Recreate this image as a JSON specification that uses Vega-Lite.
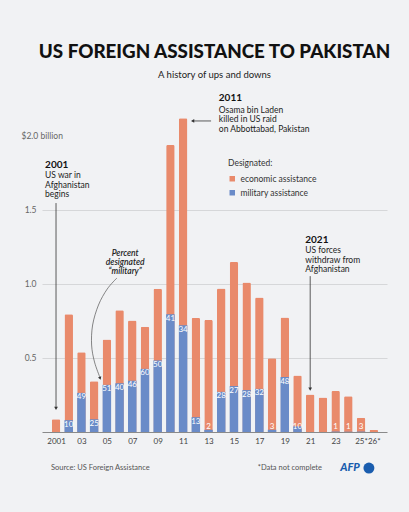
{
  "$schema": "https://vega.github.io/schema/vega-lite/v6.json",
  "autosize": {"type": "none"},
  "width": 345,
  "height": 326,
  "padding": {"left": 42, "top": 106, "right": 22, "bottom": 80},
  "background": "#f1f2f4",
  "config": {
    "font": "Lato",
    "view": {"stroke": null},
    "title": {"font": "Lato"},
    "axis": {"labelFont": "Lato", "titleFont": "Lato"},
    "axisX": {"labelOverlap": false, "labelFlush": false},
    "legend": {"labelFont": "Lato", "titleFont": "Lato"}
  },
  "title": {
    "text": "US FOREIGN ASSISTANCE TO PAKISTAN",
    "subtitle": "A history of ups and downs",
    "anchor": "middle",
    "frame": "group",
    "fontSize": 18.8,
    "fontWeight": 900,
    "color": "#111111",
    "subtitleFontSize": 9.5,
    "subtitleColor": "#222222",
    "subtitlePadding": 8,
    "offset": 14
  },
  "datasets": {
    "aid": [
      {"year": 2001, "total": 0.086, "military": 0, "pct": null},
      {"year": 2002, "total": 0.795, "military": 0.080, "pct": 10},
      {"year": 2003, "total": 0.538, "military": 0.264, "pct": 49},
      {"year": 2004, "total": 0.343, "military": 0.086, "pct": 25},
      {"year": 2005, "total": 0.624, "military": 0.318, "pct": 51},
      {"year": 2006, "total": 0.822, "military": 0.329, "pct": 40},
      {"year": 2007, "total": 0.752, "military": 0.346, "pct": 46},
      {"year": 2008, "total": 0.710, "military": 0.426, "pct": 60},
      {"year": 2009, "total": 0.966, "military": 0.483, "pct": 50},
      {"year": 2010, "total": 1.937, "military": 0.794, "pct": 41},
      {"year": 2011, "total": 2.118, "military": 0.720, "pct": 34},
      {"year": 2012, "total": 0.770, "military": 0.100, "pct": 13},
      {"year": 2013, "total": 0.755, "military": 0.015, "pct": 2},
      {"year": 2014, "total": 0.969, "military": 0.271, "pct": 28},
      {"year": 2015, "total": 1.147, "military": 0.310, "pct": 27},
      {"year": 2016, "total": 1.009, "military": 0.283, "pct": 28},
      {"year": 2017, "total": 0.908, "military": 0.291, "pct": 32},
      {"year": 2018, "total": 0.498, "military": 0.015, "pct": 3},
      {"year": 2019, "total": 0.773, "military": 0.371, "pct": 48},
      {"year": 2020, "total": 0.381, "military": 0.038, "pct": 10},
      {"year": 2021, "total": 0.253, "military": 0, "pct": null},
      {"year": 2022, "total": 0.232, "military": 0, "pct": null},
      {"year": 2023, "total": 0.277, "military": 0.003, "pct": 1},
      {"year": 2024, "total": 0.241, "military": 0.002, "pct": 1},
      {"year": 2025, "total": 0.097, "military": 0.003, "pct": 3},
      {"year": 2026, "total": 0.014, "military": 0, "pct": null}
    ],
    "heads": [
      {"year": 2000.14, "value": 1.802, "text": "2001"},
      {"year": 2013.81, "value": 2.251, "text": "2011"},
      {"year": 2020.61, "value": 1.296, "text": "2021"}
    ],
    "bodies": [
      {"year": 2000.14, "value": 1.714, "text": "US war in\nAfghanistan\nbegins"},
      {"year": 2013.81, "value": 2.156, "text": "Osama bin Laden\nkilled in US raid\non Abbottabad, Pakistan"},
      {"year": 2020.61, "value": 1.208, "text": "US forces\nwithdraw from\nAfghanistan"}
    ],
    "arrows": [
      {"year": 2001, "year2": 2001, "value": 1.545, "value2": 0.16},
      {"year": 2013.2, "year2": 2011.75, "value": 2.099, "value2": 2.099},
      {"year": 2021, "year2": 2021, "value": 1.052, "value2": 0.29}
    ],
    "curve": [
      {"i": 0, "year": 2005.79, "value": 1.039},
      {"i": 1, "year": 2005.03, "value": 0.965},
      {"i": 2, "year": 2004.34, "value": 0.857},
      {"i": 3, "year": 2003.88, "value": 0.722},
      {"i": 4, "year": 2003.80, "value": 0.587},
      {"i": 5, "year": 2004.03, "value": 0.472},
      {"i": 6, "year": 2004.45, "value": 0.37}
    ],
    "footer": [
      {"year": 2000.6, "value": -0.243, "text": "Source: US Foreign Assistance"},
      {"year": 2016.87, "value": -0.243, "text": "*Data not complete"}
    ]
  },
  "encoding": {
    "x": {
      "field": "year",
      "type": "quantitative",
      "scale": {"domain": [2000.29, 2026.65], "nice": false, "zero": false},
      "axis": {
        "title": null,
        "values": [2001, 2003, 2005, 2007, 2009, 2011, 2013, 2015, 2017, 2019, 2021, 2023, 2025, 2026],
        "labelExpr": "datum.value == 2001 ? '2001' : (substring(toString(datum.value), 2, 4) + (datum.value >= 2025 ? '*' : ''))",
        "labelOverlap": false,
        "labelFlush": false,
        "labelFontSize": 8,
        "labelColor": "#444444",
        "labelPadding": 5,
        "ticks": false,
        "grid": false,
        "domainColor": "#8a8a8a",
        "domainWidth": 1
      }
    }
  },
  "layer": [
    {
      "data": {"values": [{"value": 2}]},
      "mark": {"type": "rule", "color": "#d6d7d9", "strokeWidth": 1},
      "encoding": {
        "x": {"datum": 2002.12, "type": "quantitative"},
        "x2": {"datum": 2026.65},
        "y": {
          "field": "value",
          "type": "quantitative",
          "scale": {"domain": [0, 2.2], "nice": false},
          "axis": {
            "title": null,
            "values": [0.5, 1, 1.5, 2],
            "labelExpr": "datum.value == 2 ? '$2.0 billion' : format(datum.value, '.1f')",
            "labelFontSize": 8.5,
            "labelColor": "#666666",
            "labelAlign": {"condition": {"test": "datum.value == 2", "value": "left"}, "value": "right"},
            "labelPadding": {"condition": {"test": "datum.value == 2", "value": 21}, "value": 6},
            "labelBaseline": "middle",
            "ticks": false,
            "domain": false,
            "grid": true,
            "gridColor": "#d6d7d9",
            "gridOpacity": {"condition": {"test": "datum.value == 2", "value": 0}, "value": 1}
          }
        }
      }
    },
    {
      "data": {"name": "aid"},
      "mark": {"type": "bar", "width": 8.5, "cornerRadiusTopLeft": 1.5, "cornerRadiusTopRight": 1.5},
      "encoding": {
        "y": {"field": "total", "type": "quantitative"},
        "color": {
          "datum": "economic assistance",
          "type": "nominal",
          "scale": {"domain": ["economic assistance", "military assistance"], "range": ["#e98a6b", "#6a8bc8"]},
          "legend": {
            "title": "Designated:",
            "orient": "none",
            "legendX": 186,
            "legendY": 53,
            "titleFontSize": 8.5,
            "titleFontWeight": "normal",
            "titleColor": "#333333",
            "titlePadding": 7,
            "labelFontSize": 8.5,
            "labelColor": "#333333",
            "labelOffset": 4,
            "symbolType": "square",
            "symbolSize": 30,
            "symbolStrokeWidth": 0,
            "rowPadding": 5
          }
        }
      }
    },
    {
      "data": {"name": "aid"},
      "mark": {"type": "bar", "width": 8.5},
      "encoding": {
        "y": {"field": "military", "type": "quantitative"},
        "color": {"datum": "military assistance", "type": "nominal"}
      }
    },
    {
      "data": {"name": "aid"},
      "transform": [
        {"filter": "datum.pct != null"},
        {"calculate": "max(datum.military, 0.065)", "as": "labelY"}
      ],
      "mark": {"type": "text", "color": "#ffffff", "fontSize": 8, "baseline": "middle", "dy": 4.5},
      "encoding": {
        "y": {"field": "labelY", "type": "quantitative"},
        "text": {"field": "pct", "type": "quantitative"}
      }
    },
    {
      "data": {"name": "heads"},
      "mark": {"type": "text", "align": "left", "baseline": "middle", "fontSize": 10, "fontWeight": "bold", "color": "#111111"},
      "encoding": {
        "y": {"field": "value", "type": "quantitative"},
        "text": {"field": "text"}
      }
    },
    {
      "data": {"name": "bodies"},
      "mark": {"type": "text", "align": "left", "baseline": "alphabetic", "fontSize": 8.5, "lineHeight": 9.6, "lineBreak": "\n", "color": "#222222"},
      "encoding": {
        "y": {"field": "value", "type": "quantitative"},
        "text": {"field": "text"}
      }
    },
    {
      "data": {"values": [{"year": 2006.44, "value": 1.188, "text": "Percent\ndesignated\n“military”"}]},
      "mark": {"type": "text", "align": "center", "baseline": "alphabetic", "fontSize": 8.5, "fontStyle": "italic", "fontWeight": 600, "lineHeight": 9, "lineBreak": "\n", "color": "#222222"},
      "encoding": {
        "y": {"field": "value", "type": "quantitative"},
        "text": {"field": "text"}
      }
    },
    {
      "data": {"name": "arrows"},
      "mark": {"type": "rule", "color": "#333333", "strokeWidth": 0.8},
      "encoding": {
        "x2": {"field": "year2"},
        "y": {"field": "value", "type": "quantitative"},
        "y2": {"field": "value2"}
      }
    },
    {
      "data": {"values": [{"year": 2001, "value": 0.16}, {"year": 2021, "value": 0.29}]},
      "mark": {"type": "point", "shape": "triangle-down", "filled": true, "size": 14, "color": "#333333", "opacity": 1},
      "encoding": {
        "y": {"field": "value", "type": "quantitative"}
      }
    },
    {
      "data": {"values": [{"year": 2011.75, "value": 2.099}]},
      "mark": {"type": "point", "shape": "triangle-left", "filled": true, "size": 14, "color": "#333333", "opacity": 1},
      "encoding": {
        "y": {"field": "value", "type": "quantitative"}
      }
    },
    {
      "data": {"name": "curve"},
      "mark": {"type": "line", "interpolate": "cardinal", "color": "#555555", "strokeWidth": 0.7},
      "encoding": {
        "y": {"field": "value", "type": "quantitative"},
        "order": {"field": "i", "type": "quantitative"}
      }
    },
    {
      "data": {"values": [{"year": 2004.47, "value": 0.362}]},
      "mark": {"type": "point", "shape": "triangle-down", "angle": -20, "filled": true, "size": 12, "color": "#333333", "opacity": 1},
      "encoding": {
        "y": {"field": "value", "type": "quantitative"}
      }
    },
    {
      "data": {"name": "footer"},
      "mark": {"type": "text", "align": "left", "baseline": "middle", "fontSize": 7.5, "color": "#555555"},
      "encoding": {
        "y": {"field": "value", "type": "quantitative"},
        "text": {"field": "text"}
      }
    },
    {
      "data": {"values": [{"year": 2023.36, "value": -0.243, "text": "AFP"}]},
      "mark": {"type": "text", "align": "left", "baseline": "middle", "fontSize": 11, "fontWeight": 900, "fontStyle": "italic", "color": "#1a5dae"},
      "encoding": {
        "y": {"field": "value", "type": "quantitative"},
        "text": {"field": "text"}
      }
    },
    {
      "data": {"values": [{"year": 2025.62, "value": -0.243}]},
      "mark": {"type": "point", "shape": "circle", "filled": true, "size": 120, "color": "#1a5dae", "opacity": 1},
      "encoding": {
        "y": {"field": "value", "type": "quantitative"}
      }
    }
  ]
}
